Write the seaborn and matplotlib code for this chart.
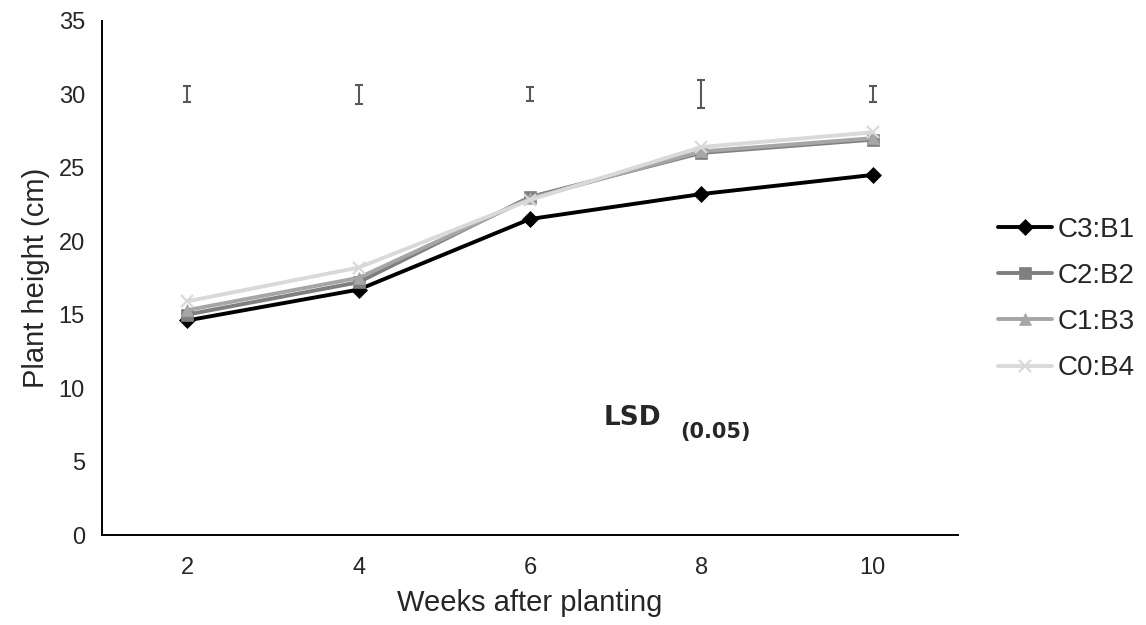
import matplotlib
matplotlib.use("Agg")
import matplotlib.pyplot as plt
import seaborn as sns
import pandas as pd
import numpy as np
from matplotlib.lines import Line2D

weeks = ["2", "4", "6", "8", "10"]
series_names = ["C3:B1", "C2:B2", "C1:B3", "C0:B4"]
c3_b1 = [14.6, 16.7, 21.5, 23.2, 24.5]
c2_b2 = [15.0, 17.2, 23.0, 26.0, 26.9]
c1_b3 = [15.3, 17.5, 22.9, 26.1, 27.0]
c0_b4 = [15.9, 18.2, 22.8, 26.4, 27.4]
lsd_center = [30.0, 30.0, 30.0, 30.0, 30.0]
lsd_half = [0.55, 0.65, 0.5, 0.95, 0.55]

colors = {"C3:B1": "#000000", "C2:B2": "#7f7f7f", "C1:B3": "#a6a6a6", "C0:B4": "#d9d9d9"}
markers = {"C3:B1": "D", "C2:B2": "s", "C1:B3": "^", "C0:B4": "x"}
msizes = {"C3:B1": 8.5, "C2:B2": 8.5, "C1:B3": 9, "C0:B4": 9}

values = [c3_b1, c2_b2, c1_b3, c0_b4]
rows = []
for name, vals in zip(series_names, values):
    for i, (w, v) in enumerate(zip(weeks, vals)):
        rows.append({"pos": i, "week": w, "series": name, "height": v})
df = pd.DataFrame(rows)

sns.set_theme(style="white")
plt.rcParams["font.family"] = ["Liberation Sans", "DejaVu Sans"]

fig = plt.figure(figsize=(11.46, 6.25), dpi=100)
ax = fig.add_axes([0.0887, 0.144, 0.8363 - 0.0887, 0.967 - 0.144])

for name in series_names:
    sub = df[df["series"] == name]
    sns.lineplot(data=sub, x="pos", y="height", ax=ax, color=colors[name],
                 marker=markers[name], markersize=msizes[name],
                 markeredgecolor=colors[name], markeredgewidth=1.6 if name == "C0:B4" else 0.5,
                 linewidth=2.8, label=name, legend=False, zorder=3)

ax.errorbar(np.arange(len(weeks)), lsd_center, yerr=lsd_half, fmt="none",
            ecolor="#595959", elinewidth=1.5, capsize=3, capthick=1.5, zorder=4)

ax.set_xlim(-0.5, len(weeks) - 0.5)
ax.set_ylim(0, 35)
ax.set_yticks(np.arange(0, 36, 5))
ax.set_xticks(np.arange(len(weeks)))
ax.set_xticklabels(weeks)
ax.tick_params(axis="y", direction="out", length=6, width=1.2, color="black", labelsize=17, pad=6)
ax.tick_params(axis="x", length=0, labelsize=17, pad=16)
for s in ["top", "right"]:
    ax.spines[s].set_visible(False)
for s in ["left", "bottom"]:
    ax.spines[s].set_color("black")
    ax.spines[s].set_linewidth(1.4)
ax.set_xlabel("Weeks after planting", fontsize=21, labelpad=7)
ax.set_ylabel("Plant height (cm)", fontsize=21, labelpad=6)

handles = [Line2D([], [], color=colors[n], marker=markers[n], markersize=msizes[n],
                  markeredgecolor=colors[n], markeredgewidth=1.6 if n == "C0:B4" else 0.5,
                  linewidth=2.8) for n in series_names]
leg = fig.legend(handles, series_names, loc="center left", bbox_to_anchor=(998 / 1146, 1 - 299 / 625),
                 frameon=False, fontsize=20, handlelength=1.95, handletextpad=0.2,
                 labelspacing=0.73, borderpad=0, borderaxespad=0)

fig.text(604 / 1146, 1 - 418 / 625, "LSD", fontsize=19, fontweight="bold",
         family=["DejaVu Sans"], va="center", ha="left")
fig.text(680 / 1146, 1 - 432 / 625, "(0.05)", fontsize=15, fontweight="bold",
         family=["DejaVu Sans"], va="center", ha="left")

fig.savefig("out.png", dpi=100, facecolor="white")
